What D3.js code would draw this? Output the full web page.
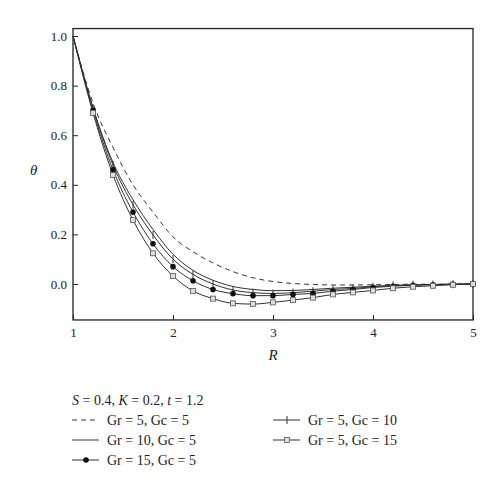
<!DOCTYPE html><html><head><script src="https://cdn.jsdelivr.net/npm/d3@7"></script>
<style>body{margin:0;background:#fff}text{font-family:"Liberation Serif",serif;fill:#222}</style></head><body>
<svg width="500" height="491"></svg>
<script>
const R=[1,1.2,1.4,1.6,1.8,2,2.2,2.4,2.6,2.8,3,3.2,3.4,3.6,3.8,4,4.2,4.4,4.6,4.8,5];
const dashed=[1,0.73,0.55,0.40,0.29,0.19,0.13,0.085,0.05,0.025,0.01,0.002,-0.002,-0.004,-0.004,-0.003,-0.002,-0.001,-0.001,0,0];
const solid=[1,0.71,0.49,0.34,0.22,0.12,0.055,0.015,-0.01,-0.022,-0.027,-0.026,-0.022,-0.017,-0.013,-0.009,-0.006,-0.004,-0.002,-0.001,0];
const plus=[1,0.71,0.48,0.32,0.198,0.10,0.039,0.0,-0.024,-0.035,-0.038,-0.035,-0.029,-0.022,-0.018,-0.011,-0.006,-0.003,-0.002,-0.001,0];
const dots=[1,0.70,0.46,0.29,0.162,0.07,0.013,-0.022,-0.039,-0.047,-0.047,-0.042,-0.038,-0.029,-0.022,-0.014,-0.009,-0.005,-0.003,-0.001,0];
const squares=[1,0.69,0.44,0.258,0.124,0.032,-0.028,-0.059,-0.078,-0.081,-0.074,-0.065,-0.055,-0.042,-0.034,-0.026,-0.017,-0.011,-0.007,-0.003,0];
const xTicks=[1,2,3,4,5], yTicks=[0,0.2,0.4,0.6,0.8,1.0];
const svg=d3.select("svg");
const x=d3.scaleLinear().domain([1,5]).range([73,473]);
const y=d3.scaleLinear().domain([0,1]).range([284,36]);
const yTop=y(1.03), yBot=y(-0.145);
svg.append("rect").attr("x",73).attr("y",yTop).attr("width",400).attr("height",yBot-yTop).attr("fill","none").attr("stroke","#222").attr("stroke-width",1.3);
const ax=svg.append("g").attr("transform",`translate(0,${yBot})`).call(d3.axisBottom(x).tickValues(xTicks).tickFormat(d3.format("d")).tickSize(-5).tickPadding(8));
const ay=svg.append("g").attr("transform","translate(73,0)").call(d3.axisLeft(y).tickValues(yTicks).tickFormat(d3.format(".1f")).tickSize(-5).tickPadding(6));
[ax,ay].forEach(a=>{a.select(".domain").remove();a.selectAll("line").attr("stroke","#222");a.selectAll("text").style("font-size","13px").style("font-family","Liberation Serif");});
svg.append("text").attr("x",30).attr("y",175).attr("font-style","italic").style("font-size","15px").text("θ");
svg.append("text").attr("x",273).attr("y",360).attr("font-style","italic").attr("text-anchor","middle").style("font-size","15px").text("R");
const line=d3.line().x((d,i)=>x(R[i])).y(d=>y(d)).curve(d3.curveMonotoneX);
const g=svg.append("g");
function draw(vals,dash){g.append("path").attr("d",line(vals)).attr("fill","none").attr("stroke","#333").attr("stroke-width",1).attr("stroke-dasharray",dash||null);}
draw(dashed,"5,4");draw(solid);draw(plus);draw(dots);draw(squares);
plus.forEach((v,i)=>{if(i>0)g.append("line").attr("x1",x(R[i])).attr("x2",x(R[i])).attr("y1",y(v)-4).attr("y2",y(v)+4).attr("stroke","#333");});
dots.forEach((v,i)=>{if(i>0)g.append("circle").attr("cx",x(R[i])).attr("cy",y(v)).attr("r",2.8).attr("fill","#111");});
squares.forEach((v,i)=>{if(i>0)g.append("rect").attr("x",x(R[i])-2.5).attr("y",y(v)-2.5).attr("width",5).attr("height",5).attr("fill","#ddd").attr("stroke","#555").attr("stroke-width",0.8);});
const L=svg.append("g");
L.append("text").attr("x",72).attr("y",405).style("font-size","14px").html('<tspan font-style="italic">S</tspan> = 0.4, <tspan font-style="italic">K</tspan> = 0.2, <tspan font-style="italic">t</tspan> = 1.2');
const items=[{t:"Gr = 5, Gc = 5",k:"dash",c:0,r:0},{t:"Gr = 10, Gc = 5",k:"solid",c:0,r:1},{t:"Gr = 15, Gc = 5",k:"dot",c:0,r:2},{t:"Gr = 5, Gc = 10",k:"plus",c:1,r:0},{t:"Gr = 5, Gc = 15",k:"sq",c:1,r:1}];
items.forEach(it=>{const lx=it.c?273:72, ly=420+it.r*20;
 L.append("line").attr("x1",lx).attr("x2",lx+27).attr("y1",ly).attr("y2",ly).attr("stroke","#333").attr("stroke-dasharray",it.k=="dash"?"5,4":null);
 if(it.k=="dot")L.append("circle").attr("cx",lx+14).attr("cy",ly).attr("r",2.8).attr("fill","#111");
 if(it.k=="plus")L.append("line").attr("x1",lx+14).attr("x2",lx+14).attr("y1",ly-4).attr("y2",ly+4).attr("stroke","#333");
 if(it.k=="sq")L.append("rect").attr("x",lx+11.5).attr("y",ly-2.5).attr("width",5).attr("height",5).attr("fill","#ddd").attr("stroke","#555").attr("stroke-width",0.8);
 L.append("text").attr("x",lx+35).attr("y",ly+5).style("font-size","14px").text(it.t);});
</script></body></html>
